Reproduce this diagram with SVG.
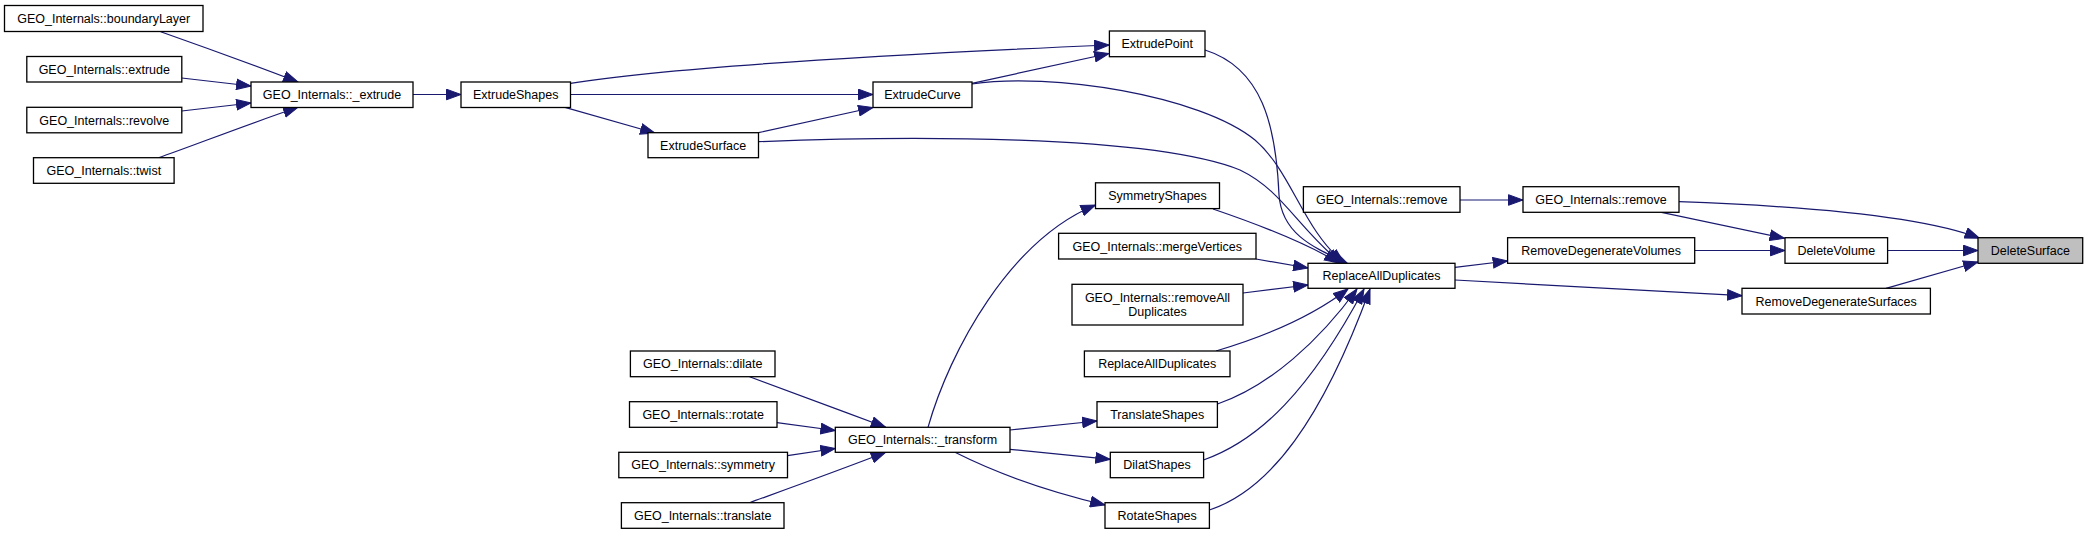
<svg xmlns="http://www.w3.org/2000/svg" width="2088" height="535" viewBox="0 0 2088 535">
<style>
.n rect{fill:#fff;stroke:#000;stroke-width:1.3}
.n.h rect{fill:#bfbfbf}
.n text{font-family:"Liberation Sans",Arial,sans-serif;font-size:12.5px;fill:#000;text-anchor:middle}
.e path{fill:none;stroke:#191970;stroke-width:1.2}
</style>
<defs>
<marker id="a" markerUnits="userSpaceOnUse" markerWidth="16" markerHeight="12" viewBox="0 0 16 12" refX="15" refY="6" orient="auto">
<path d="M0.5,0.7 L15,6 L0.5,11.3 z" fill="#191970" stroke="#191970" stroke-width="1"/>
</marker>
</defs>
<rect width="2088" height="535" fill="#fff"/>
<g class="e">
<path marker-end="url(#a)" d="M160.7,31.7 C190,42 235,58 298,82"/>
<path marker-end="url(#a)" d="M181.7,78 L251,86"/>
<path marker-end="url(#a)" d="M181.7,111 L251,103"/>
<path marker-end="url(#a)" d="M158.5,157.7 C190,147 240,127 298,107.3"/>
<path marker-end="url(#a)" d="M413,94.5 L461,94.5"/>
<path marker-end="url(#a)" d="M570.5,83.3 C680,66 900,54 1109,45"/>
<path marker-end="url(#a)" d="M570.5,94.5 L873,94.5"/>
<path marker-end="url(#a)" d="M565,107.3 L655,133"/>
<path marker-end="url(#a)" d="M758.5,132.7 L873,107.5"/>
<path marker-end="url(#a)" d="M972,83.3 L1109,53.5"/>
<path marker-end="url(#a)" d="M1205,50 C1262,68 1276,125 1279,195 C1282,235 1315,248 1347,263"/>
<path marker-end="url(#a)" d="M972,84 C1050,72 1200,95 1255,140 C1292,172 1302,228 1344,263"/>
<path marker-end="url(#a)" d="M758.5,141.7 C900,136 1150,134 1240,170 C1282,190 1298,228 1341,263"/>
<path marker-end="url(#a)" d="M1213,209 C1260,225 1308,244 1339,263"/>
<path marker-end="url(#a)" d="M1256,259 L1308,268"/>
<path marker-end="url(#a)" d="M1243,293 L1308,285"/>
<path marker-end="url(#a)" d="M1216,351 C1260,338 1310,318 1348,289"/>
<path marker-end="url(#a)" d="M1217.5,404 C1270,386 1320,340 1357,289"/>
<path marker-end="url(#a)" d="M1203.5,460 C1260,440 1310,390 1364,289"/>
<path marker-end="url(#a)" d="M1209.4,510 C1270,490 1322,420 1370,289"/>
<path marker-end="url(#a)" d="M749.6,376.7 C790,392 840,410 885.7,427.3"/>
<path marker-end="url(#a)" d="M777,422.7 L835.3,430.5"/>
<path marker-end="url(#a)" d="M787.5,455.7 L835.3,448.5"/>
<path marker-end="url(#a)" d="M749.6,502.7 C790,488 840,470 885.7,452.3"/>
<path marker-end="url(#a)" d="M928,427.3 C950,350 1010,240 1095.5,205"/>
<path marker-end="url(#a)" d="M1010,430 L1097,421"/>
<path marker-end="url(#a)" d="M1010,449.3 L1110.3,459.3"/>
<path marker-end="url(#a)" d="M955,452.3 C1000,475 1050,492 1105,505"/>
<path marker-end="url(#a)" d="M1460,200 L1523,200"/>
<path marker-end="url(#a)" d="M1661.5,212.3 L1784.5,238.3"/>
<path marker-end="url(#a)" d="M1679,201.7 C1800,206 1920,215 1979.5,238.3"/>
<path marker-end="url(#a)" d="M1694.7,250.5 L1785,250.5"/>
<path marker-end="url(#a)" d="M1887.6,250.5 L1978,250.5"/>
<path marker-end="url(#a)" d="M1886,288.3 L1978,262"/>
<path marker-end="url(#a)" d="M1455,267.3 L1507.6,261"/>
<path marker-end="url(#a)" d="M1455,280 L1742,295.7"/>
</g>
<g id="n_boundaryLayer" class="n"><rect x="4.5" y="5.5" width="198.5" height="26"/><text x="103.7" y="22.9">GEO_Internals::boundaryLayer</text></g>
<g id="n_extrude" class="n"><rect x="26.8" y="56.5" width="155" height="25.5"/><text x="104.3" y="73.7">GEO_Internals::extrude</text></g>
<g id="n_revolve" class="n"><rect x="26.8" y="107.3" width="155" height="25.5"/><text x="104.3" y="124.5">GEO_Internals::revolve</text></g>
<g id="n_twist" class="n"><rect x="33.5" y="157.7" width="140.6" height="25.6"/><text x="103.8" y="174.9">GEO_Internals::twist</text></g>
<g id="n_extrude_i" class="n"><rect x="251" y="82" width="162" height="25.5"/><text x="332" y="99.2">GEO_Internals::_extrude</text></g>
<g id="n_ExtrudeShapes" class="n"><rect x="461" y="82" width="109.5" height="25.5"/><text x="515.7" y="99.2">ExtrudeShapes</text></g>
<g id="n_ExtrudeSurface" class="n"><rect x="648" y="132.7" width="110.5" height="25"/><text x="703.2" y="149.6">ExtrudeSurface</text></g>
<g id="n_ExtrudeCurve" class="n"><rect x="873" y="82" width="99" height="25.5"/><text x="922.5" y="99.2">ExtrudeCurve</text></g>
<g id="n_ExtrudePoint" class="n"><rect x="1109.4" y="31" width="95.6" height="25.7"/><text x="1157.2" y="48.3">ExtrudePoint</text></g>
<g id="n_SymmetryShapes" class="n"><rect x="1095.5" y="182.8" width="124" height="25.8"/><text x="1157.5" y="200.1">SymmetryShapes</text></g>
<g id="n_mergeVertices" class="n"><rect x="1058.6" y="233.3" width="197.4" height="25.7"/><text x="1157.3" y="250.6">GEO_Internals::mergeVertices</text></g>
<g id="n_removeAllDuplicates" class="n"><rect x="1072" y="284.3" width="171" height="40.7"/><text x="1157.5" y="301.7">GEO_Internals::removeAll</text><text x="1157.5" y="316.2">Duplicates</text></g>
<g id="n_ReplaceAllDuplicates2" class="n"><rect x="1084.4" y="351" width="145.6" height="25.7"/><text x="1157.2" y="368.3">ReplaceAllDuplicates</text></g>
<g id="n_dilate" class="n"><rect x="630.4" y="351" width="144.6" height="25.7"/><text x="702.7" y="368.3">GEO_Internals::dilate</text></g>
<g id="n_rotate" class="n"><rect x="629.5" y="401.7" width="147.5" height="25.6"/><text x="703.2" y="418.9">GEO_Internals::rotate</text></g>
<g id="n_symmetry" class="n"><rect x="618.8" y="452.3" width="168.7" height="25.4"/><text x="703.1" y="469.4">GEO_Internals::symmetry</text></g>
<g id="n_translate" class="n"><rect x="621.4" y="502.7" width="162.6" height="25.6"/><text x="702.7" y="519.9">GEO_Internals::translate</text></g>
<g id="n_transform" class="n"><rect x="835.3" y="427.3" width="174.7" height="25"/><text x="922.6" y="444.2">GEO_Internals::_transform</text></g>
<g id="n_TranslateShapes" class="n"><rect x="1097" y="401.7" width="120.4" height="25.6"/><text x="1157.2" y="418.9">TranslateShapes</text></g>
<g id="n_DilatShapes" class="n"><rect x="1110.3" y="452.3" width="93.3" height="25.4"/><text x="1157" y="469.4">DilatShapes</text></g>
<g id="n_RotateShapes" class="n"><rect x="1105" y="502.7" width="104.4" height="25.6"/><text x="1157.2" y="519.9">RotateShapes</text></g>
<g id="n_remove1" class="n"><rect x="1303.4" y="186.7" width="156.6" height="25.6"/><text x="1381.7" y="203.9">GEO_Internals::remove</text></g>
<g id="n_remove2" class="n"><rect x="1523" y="186.7" width="156" height="25.6"/><text x="1601" y="203.9">GEO_Internals::remove</text></g>
<g id="n_ReplaceAllDuplicates" class="n"><rect x="1308" y="263.3" width="147" height="25"/><text x="1381.5" y="280">ReplaceAllDuplicates</text></g>
<g id="n_RemoveDegenerateVolumes" class="n"><rect x="1507.6" y="237.7" width="187.1" height="25.6"/><text x="1601.1" y="254.9">RemoveDegenerateVolumes</text></g>
<g id="n_DeleteVolume" class="n"><rect x="1785" y="237.7" width="102.6" height="25.6"/><text x="1836.3" y="254.9">DeleteVolume</text></g>
<g id="n_DeleteSurface" class="n h"><rect x="1978" y="237.7" width="104.7" height="25.6"/><text x="2030.3" y="254.9">DeleteSurface</text></g>
<g id="n_RemoveDegenerateSurfaces" class="n"><rect x="1742" y="288.3" width="188.4" height="25.7"/><text x="1836.2" y="305.6">RemoveDegenerateSurfaces</text></g>
</svg>
